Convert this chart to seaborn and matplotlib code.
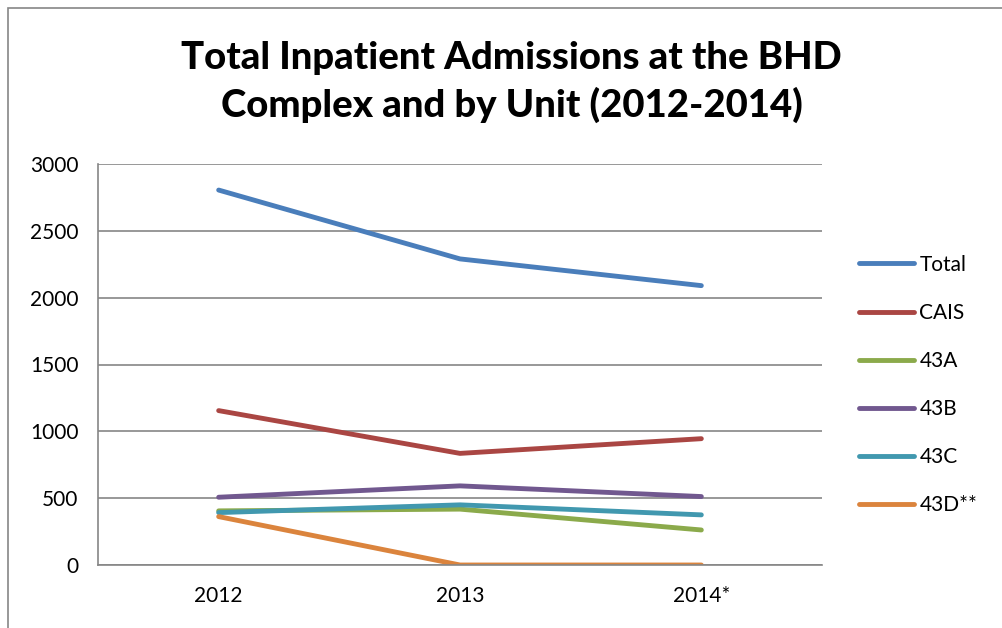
import pandas as pd
import numpy as np
import seaborn as sns
import matplotlib.pyplot as plt
from matplotlib.patches import Rectangle
from matplotlib.lines import Line2D

# values
years = ['2012', '2013', '2014*']
units = ['Total', 'CAIS', '43A', '43B', '43C', '43D**']
total = [2805, 2290, 2090]
cais = [1155, 835, 945]
u43a = [405, 418, 262]
u43b = [507, 592, 512]
u43c = [392, 450, 375]
u43d = [362, 0, 0]
colors = ['#4A7EBB', '#AA4643', '#8BAA4B', '#71588F', '#4198AF', '#DB843D']

# long form table for seaborn
df = pd.DataFrame({
    'Year': years * len(units),
    'Unit': np.repeat(units, len(years)),
    'Admissions': total + cais + u43a + u43b + u43c + u43d,
})

sns.set_style('white')
plt.rcParams['font.family'] = ['Lato', 'DejaVu Sans']
plt.rcParams['text.color'] = 'black'
plt.rcParams['xtick.labelcolor'] = 'black'
plt.rcParams['ytick.labelcolor'] = 'black'

fig = plt.figure(figsize=(10.03, 6.28), dpi=100)
ax = fig.add_axes([98 / 1003, 1 - 565 / 628, 724 / 1003, 401 / 628])

sns.lineplot(data=df, x='Year', y='Admissions', hue='Unit', hue_order=units,
             palette=colors, sort=False, linewidth=3.5, legend=False, ax=ax)
for ln in ax.get_lines():
    ln.set_solid_capstyle('round')
    ln.set_solid_joinstyle('round')

ax.set_xlim(-0.5, 2.5)
ax.set_ylim(0, 3000)
ax.set_yticks(np.arange(0, 3001, 500))
ax.set_xticks(range(len(years)))
ax.set_xticklabels(years)
ax.set_xticks([-0.5, 0.5, 1.5, 2.5], minor=True)
ax.tick_params(axis='x', which='major', length=0, pad=15, labelsize=15)
ax.tick_params(axis='x', which='minor', length=6, width=1.2, color='#868686', direction='out')
ax.tick_params(axis='y', length=6, width=1.2, color='#868686', direction='out', labelsize=15, pad=8)
ax.set_xlabel('')
ax.set_ylabel('')
ax.yaxis.grid(True, color='#868686', linewidth=1.2)
ax.set_axisbelow(True)
for s in ['top', 'right']:
    ax.spines[s].set_visible(False)
for s in ['left', 'bottom']:
    ax.spines[s].set_color('#868686')
    ax.spines[s].set_linewidth(1.2)

fig.text(0.51, 1 - 82 / 628, 'Total Inpatient Admissions at the BHD\nComplex and by Unit (2012-2014)',
         ha='center', va='center', fontsize=27.5, fontweight='black', linespacing=1.4)

handles = [Line2D([0], [0], color=c, linewidth=3.5, solid_capstyle='round') for c in colors]
fig.legend(handles, units, loc='center left', bbox_to_anchor=(859 / 1003, 1 - 385 / 628),
           frameon=False, fontsize=15, handlelength=2.65, handletextpad=0.25,
           labelspacing=1.35, borderpad=0, borderaxespad=0)

# chart area border
fig.patches.append(Rectangle((8 / 1003, -0.05), 1.0, 1 - 8 / 628 + 0.05, transform=fig.transFigure,
                             fill=False, edgecolor='#868686', linewidth=1.2, clip_on=False))

fig.savefig('out.png', dpi=100)
